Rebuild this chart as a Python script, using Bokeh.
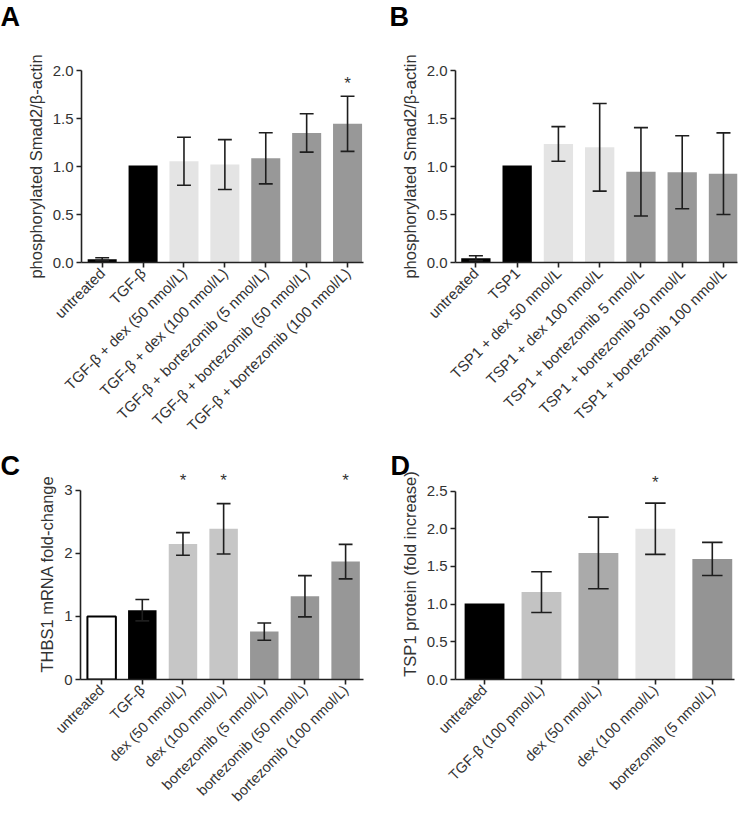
import math
import numpy as np
from bokeh.plotting import figure
from bokeh.layouts import column, row
from bokeh.models import FixedTicker
from bokeh.embed import file_html
from bokeh.resources import INLINE
from bokeh.core.properties import value

# ---------------- data ----------------
# Panel A
a_labels = ["untreated", "TGF-β", "TGF-β + dex (50 nmol/L)", "TGF-β + dex (100 nmol/L)",
            "TGF-β + bortezomib (5 nmol/L)", "TGF-β + bortezomib (50 nmol/L)",
            "TGF-β + bortezomib (100 nmol/L)"]
a_mean = [0.035, 1.01, 1.055, 1.02, 1.085, 1.35, 1.445]
a_sem = [0.015, 0.0, 0.25, 0.26, 0.266, 0.20, 0.287]
a_colors = ["#000000", "#000000", "#e4e4e4", "#e4e4e4", "#989898", "#989898", "#989898"]
a_sig = [6]
a_star_y = 1.86
a_yticks = [0, 0.5, 1.0, 1.5, 2.0]
a_ytick_labels = ["0.0", "0.5", "1.0", "1.5", "2.0"]
a_ylabel = "phosphorylated Smad2/β-actin"

# Panel B
b_labels = ["untreated", "TSP1", "TSP1 + dex 50 nmol/L", "TSP1 + dex 100 nmol/L",
            "TSP1 + bortezomib 5 nmol/L", "TSP1 + bortezomib 50 nmol/L",
            "TSP1 + bortezomib 100 nmol/L"]
b_mean = [0.045, 1.01, 1.235, 1.20, 0.945, 0.94, 0.925]
b_sem = [0.025, 0.0, 0.18, 0.457, 0.46, 0.38, 0.425]
b_colors = ["#000000", "#000000", "#e4e4e4", "#e4e4e4", "#989898", "#989898", "#989898"]
b_sig = []
b_star_y = 1.86
b_yticks = [0, 0.5, 1.0, 1.5, 2.0]
b_ytick_labels = ["0.0", "0.5", "1.0", "1.5", "2.0"]
b_ylabel = "phosphorylated Smad2/β-actin"

# Panel C
c_labels = ["untreated", "TGF-β", "dex (50 nmol/L)", "dex (100 nmol/L)",
            "bortezomib (5 nmol/L)", "bortezomib (50 nmol/L)", "bortezomib (100 nmol/L)"]
c_mean = [1.0, 1.10, 2.15, 2.39, 0.76, 1.32, 1.87]
c_sem = [0.0, 0.17, 0.18, 0.40, 0.137, 0.327, 0.274]
c_colors = ["#ffffff", "#000000", "#c6c6c6", "#c6c6c6", "#979797", "#979797", "#979797"]
c_outline = [1, 0, 0, 0, 0, 0, 0]
c_sig = [2, 3, 6]
c_star_y = 3.16
c_yticks = [0, 1, 2, 3]
c_ytick_labels = ["0", "1", "2", "3"]
c_ylabel = "THBS1 mRNA fold-change"

# Panel D
d_labels = ["untreated", "TGF-β (100 pmol/L)", "dex (50 nmol/L)", "dex (100 nmol/L)",
            "bortezomib (5 nmol/L)"]
d_mean = [1.01, 1.16, 1.68, 2.0, 1.60]
d_sem = [0.0, 0.27, 0.475, 0.34, 0.22]
d_colors = ["#000000", "#c3c3c3", "#aaaaaa", "#e5e5e5", "#949494"]
d_sig = [3]
d_star_y = 2.615
d_yticks = [0, 0.5, 1.0, 1.5, 2.0, 2.5]
d_ytick_labels = ["0.0", "0.5", "1.0", "1.5", "2.0", "2.5"]
d_ylabel = "TSP1 protein (fold increase)"

FONT = "Liberation Sans"
AX = "#222222"
TXT = "#333333"


def panel(letter, labels, mean, sem, colors, sig, star_y, yticks, ytick_labels, ylabel,
          width, height, borders, xr, yr, ybounds, outline=None, bar_w=0.71, cap=0.17,
          xfont="15px", transparent=False, title_dx=0, title_standoff=10,
          title_line_height=1.2):
    left, right, top, bottom = borders
    p = figure(width=width, height=height, x_range=xr, y_range=yr,
               output_backend="svg", toolbar_location=None, tools="",
               min_border_left=left, min_border_right=right,
               min_border_top=top, min_border_bottom=bottom)
    p.outline_line_color = None
    p.xgrid.visible = False
    p.ygrid.visible = False
    p.background_fill_color = "white"
    p.border_fill_color = None if transparent else "white"

    p.title.text = letter
    p.title.text_font = FONT
    p.title.text_font_size = "27px"
    p.title.text_font_style = "bold"
    p.title.text_color = "#000000"
    p.title.text_line_height = title_line_height
    p.title.align = "left"
    p.title.offset = -left + title_dx
    p.title.standoff = title_standoff

    n = len(labels)
    x = np.arange(n)
    m = np.array(mean, dtype=float)
    s = np.array(sem, dtype=float)
    if outline is None:
        outline = [0] * n
    p.vbar(x=x, top=m, bottom=0, width=bar_w, fill_color=colors,
           line_color="#000000", line_alpha=[float(o) for o in outline], line_width=2)

    k = s > 0
    xe, lo, hi = x[k], (m - s)[k], (m + s)[k]
    ecol = "#1e1e1e"
    p.segment(x0=xe, y0=lo, x1=xe, y1=hi, line_color=ecol, line_width=1.6)
    p.segment(x0=xe - cap, y0=hi, x1=xe + cap, y1=hi, line_color=ecol, line_width=1.6)
    p.segment(x0=xe - cap, y0=lo, x1=xe + cap, y1=lo, line_color=ecol, line_width=1.6)

    if sig:
        p.text(x=sig, y=[star_y] * len(sig), text=["*"] * len(sig),
               text_align="center", text_baseline="middle",
               text_font=value(FONT), text_font_size="17px", text_color=TXT)

    # axes
    xa = p.xaxis[0]
    xa.ticker = FixedTicker(ticks=list(range(n)))
    xa.major_label_overrides = {i: lab for i, lab in enumerate(labels)}
    xa.major_label_orientation = math.pi / 4
    ya = p.yaxis[0]
    ya.ticker = FixedTicker(ticks=yticks)
    ya.major_label_overrides = {t: l for t, l in zip(yticks, ytick_labels)}
    ya.bounds = ybounds
    ya.axis_label = ylabel
    ya.axis_label_text_font = FONT
    ya.axis_label_text_font_size = "16.5px"
    ya.axis_label_text_font_style = "normal"
    ya.axis_label_text_color = TXT
    ya.axis_label_standoff = 5
    for ax in (xa, ya):
        ax.axis_line_color = AX
        ax.axis_line_width = 1.6
        ax.major_tick_line_color = AX
        ax.major_tick_line_width = 1.6
        ax.major_tick_out = 5
        ax.major_tick_in = 0
        ax.minor_tick_line_color = None
        ax.major_label_text_font = FONT
        ax.major_label_text_color = TXT
        ax.major_label_standoff = 3
    ya.major_label_text_font_size = "15px"
    xa.major_label_text_font_size = xfont
    return p


pA = panel("A\n", a_labels, a_mean, a_sem, a_colors, a_sig, a_star_y, a_yticks,
           a_ytick_labels, a_ylabel, 372, 446, (81, 9, 70, 184),
           (-0.506, 6.39), (0, 2.0), (0, 2.0), title_standoff=0,
           title_line_height=1.28)
pB = panel("B\n", b_labels, b_mean, b_sem, b_colors, b_sig, b_star_y, b_yticks,
           b_ytick_labels, b_ylabel, 372, 446, (83, 7, 70, 184),
           (-0.494, 6.34), (0, 2.0), (0, 2.0), title_dx=17, title_standoff=0,
           title_line_height=1.28)
pC = panel("C", c_labels, c_mean, c_sem, c_colors, c_sig, c_star_y, c_yticks,
           c_ytick_labels, c_ylabel, 372, 412, (80, 9, 68, 132),
           (-0.52, 6.44), (0, 3.347), (0, 3), outline=c_outline, bar_w=0.70,
           xfont="14.5px", transparent=True, title_standoff=-24)
pD = panel("D", d_labels, d_mean, d_sem, d_colors, d_sig, d_star_y, d_yticks,
           d_ytick_labels, d_ylabel, 372, 412, (83, 10, 68, 132),
           (-0.51, 4.39), (0, 2.80), (0, 2.5), bar_w=0.70, cap=0.18,
           xfont="14.5px", transparent=True, title_dx=18, title_standoff=-24)

top_row = row(pA, pB)
bottom_row = row(pC, pD, margin=(-46, 0, 0, 0))
layout = column(top_row, bottom_row)
open("out.html", "w").write(file_html(layout, INLINE))
